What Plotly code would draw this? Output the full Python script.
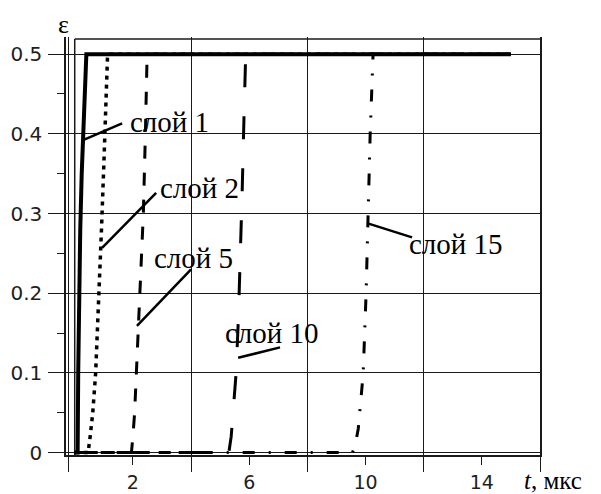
import plotly.graph_objects as go

# Time axis, microseconds
t_layer1 = [0, 0.10, 0.12, 0.15, 0.19, 0.24, 0.30, 0.35, 0.40, 15]
eps_layer1 = [0, 0, 0.10, 0.20, 0.28, 0.35, 0.40, 0.45, 0.50, 0.50]

t_layer2 = [0, 0.46, 0.53, 0.62, 0.72, 0.82, 0.92, 1.00, 1.06, 1.13, 15]
eps_layer2 = [0, 0, 0.02, 0.05, 0.10, 0.18, 0.28, 0.36, 0.42, 0.50, 0.50]

t_layer5 = [0, 1.95, 2.00, 2.06, 2.12, 2.25, 2.36, 2.43, 2.49, 15]
eps_layer5 = [0, 0, 0.02, 0.05, 0.10, 0.20, 0.30, 0.40, 0.50, 0.50]

t_layer10 = [0, 5.30, 5.38, 5.45, 5.55, 5.63, 5.70, 5.76, 5.82, 5.88, 15]
eps_layer10 = [0, 0, 0.02, 0.05, 0.10, 0.17, 0.25, 0.33, 0.42, 0.50, 0.50]

t_layer15 = [0, 9.55, 9.65, 9.75, 9.85, 9.92, 10.02, 10.09, 10.16, 10.26, 15]
eps_layer15 = [0, 0, 0.01, 0.03, 0.07, 0.10, 0.20, 0.30, 0.40, 0.50, 0.50]

x_tick_vals = [2, 6, 10, 14]
x_grid_vals = [-0.22, 4, 8, 12, 16]
y_tick_vals = [0, 0.1, 0.2, 0.3, 0.4, 0.5]
y_tick_text = ["0", "0.1", "0.2", "0.3", "0.4", "0.5"]
y_minor_vals = [0.05, 0.15, 0.25, 0.35, 0.45]

# Layer labels: text, label anchor (t, eps), leader line start and end
label_text = ["слой 1", "слой 2", "слой 5", "слой 10", "слой 15"]
label_t = [1.83, 2.87, 2.65, 5.10, 11.43]
label_eps = [0.415, 0.332, 0.244, 0.150, 0.262]
leader_t0 = [0.285, 0.94, 2.14, 5.62, 10.05]
leader_eps0 = [0.392, 0.257, 0.159, 0.119, 0.288]
leader_t1 = [1.63, 2.80, 4.00, 7.06, 11.60]
leader_eps1 = [0.413, 0.326, 0.230, 0.132, 0.270]

T_MIN, T_MAX = -0.3, 16
EPS_MIN, EPS_MAX = -0.003, 0.5215
FRAME_TOP = 0.519

fig = go.Figure()

fig.add_trace(go.Scatter(x=t_layer15, y=eps_layer15, mode="lines",
                         line=dict(color="black", width=3, dash="12px,14px,2px,14px")))
fig.add_trace(go.Scatter(x=t_layer10, y=eps_layer10, mode="lines",
                         line=dict(color="black", width=3, dash="23px,29px")))
fig.add_trace(go.Scatter(x=t_layer5, y=eps_layer5, mode="lines",
                         line=dict(color="black", width=3, dash="13px,14px")))
fig.add_trace(go.Scatter(x=t_layer2, y=eps_layer2, mode="lines",
                         line=dict(color="black", width=3.5, dash="4px,5px")))
fig.add_trace(go.Scatter(x=t_layer1, y=eps_layer1, mode="lines",
                         line=dict(color="black", width=4)))

shapes = [
    # left and top edges of the frame
    dict(type="line", xref="x", yref="y", x0=0, x1=0, y0=EPS_MIN, y1=FRAME_TOP,
         line=dict(color="#1a1a1a", width=1.5), layer="below"),
    dict(type="line", xref="x", yref="y", x0=0, x1=T_MAX, y0=FRAME_TOP, y1=FRAME_TOP,
         line=dict(color="#1a1a1a", width=1.5), layer="below"),
]
for a0, b0, a1, b1 in zip(leader_t0, leader_eps0, leader_t1, leader_eps1):
    shapes.append(dict(type="line", xref="x", yref="y", x0=a0, y0=b0, x1=a1, y1=b1,
                       line=dict(color="black", width=2.5)))

annotations = []
for txt, tx, ty in zip(label_text, label_t, label_eps):
    annotations.append(dict(x=tx, y=ty, xref="x", yref="y", text=txt, showarrow=False,
                            xanchor="left", yanchor="middle",
                            font=dict(family="Liberation Serif", size=29, color="black")))

annotations.append(dict(x=-0.005, y=1.03, xref="paper", yref="paper", text="ε",
                        showarrow=False, xanchor="center", yanchor="middle",
                        font=dict(family="Liberation Serif", size=26, color="black")))
annotations.append(dict(x=0.962, y=-0.062, xref="paper", yref="paper",
                        text="<i>t</i>, мкс", showarrow=False,
                        xanchor="left", yanchor="middle",
                        font=dict(family="Liberation Serif", size=25, color="black")))

tick_font = dict(family="DejaVu Sans", size=19, color="#1e1e1e")

fig.update_layout(
    width=601, height=494,
    margin=dict(l=66, r=61, t=37, b=39),
    paper_bgcolor="white", plot_bgcolor="white",
    showlegend=False,
    shapes=shapes,
    annotations=annotations,
    xaxis=dict(
        range=[T_MIN, T_MAX], showgrid=False, zeroline=False, automargin=False,
        tickmode="array", tickvals=x_tick_vals, ticktext=[str(v) for v in x_tick_vals],
        ticks="outside", ticklen=8, tickwidth=1.3, tickcolor="#1a1a1a",
        showline=True, linecolor="#1a1a1a", linewidth=1.5,
        tickfont=tick_font, ticklabelstandoff=1,
        minor=dict(tickmode="array", tickvals=x_grid_vals, ticks="outside",
                   ticklen=15, tickwidth=1.3, tickcolor="#1a1a1a",
                   showgrid=True, gridcolor="#1a1a1a", gridwidth=1.4),
    ),
    yaxis=dict(
        range=[EPS_MIN, EPS_MAX], zeroline=False, automargin=False,
        tickmode="array", tickvals=y_tick_vals, ticktext=y_tick_text,
        ticks="outside", ticklen=16, tickwidth=1.3, tickcolor="#1a1a1a",
        showgrid=True, gridcolor="#1a1a1a", gridwidth=1.4,
        showline=True, linecolor="#1a1a1a", linewidth=1.5, mirror=True,
        tickfont=dict(family="DejaVu Sans", size=20, color="#1e1e1e"),
        ticklabelstandoff=2,
        minor=dict(tickmode="array", tickvals=y_minor_vals, ticks="outside",
                   ticklen=7, tickwidth=1.3, tickcolor="#1a1a1a", showgrid=False),
    ),
)

fig.write_html("out.html")
